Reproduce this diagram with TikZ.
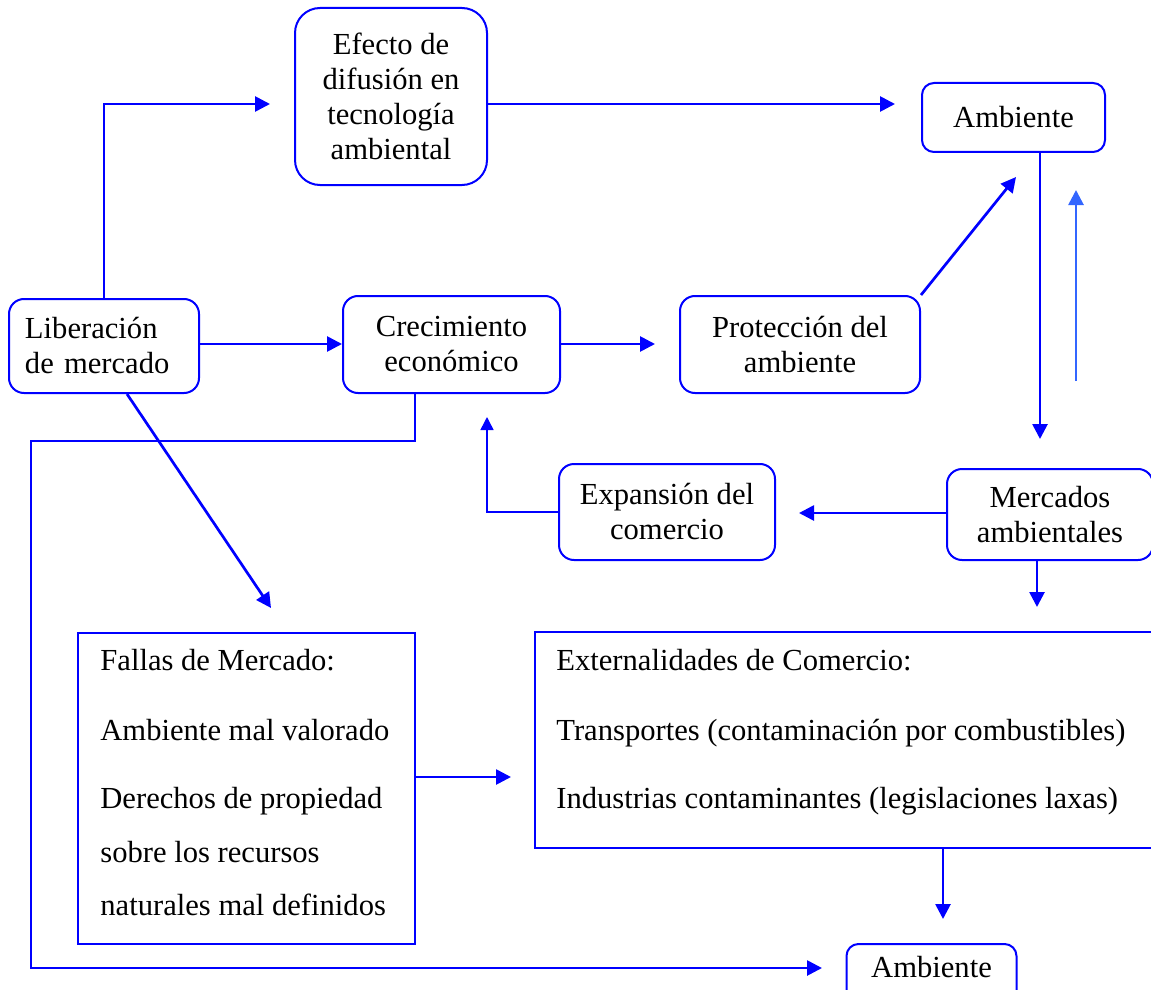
\documentclass[tikz,border=0pt]{standalone}
\usepackage{fontspec}
\setmainfont{Liberation Serif}
\usetikzlibrary{arrows.meta}
\definecolor{mblue}{RGB}{0,0,255}
\definecolor{lblue}{RGB}{51,102,255}
\begin{document}
\begin{tikzpicture}[x=0.5pt,y=-0.5pt,
  font=\fontsize{15.3}{17.5}\selectfont,
  rbox/.style={draw=mblue, line width=1pt, rounded corners=7.5pt, inner sep=0pt, align=center},
  sqbox/.style={draw=mblue, line width=1pt, inner sep=0pt},
  txt/.style={anchor=base west, inner sep=0pt},
  arr/.style={draw=mblue, line width=1.35pt, -{Triangle[length=7.5pt,width=7.5pt]}},
  arrthin/.style={draw=mblue, line width=0.75pt, -{Triangle[length=6.5pt,width=6.5pt]}},
  arrlight/.style={draw=lblue, line width=1.35pt, -{Triangle[length=7.5pt,width=7.5pt]}}]
\useasboundingbox (0,0) rectangle (1151,990);
\clip (0,0) rectangle (1151,990);

% rounded boxes
\node[rbox, rounded corners=12.5pt, minimum width=96pt, minimum height=88.5pt] (efecto) at (391,96.5)
  {Efecto de\\difusión en\\tecnología\\ambiental};
\node[rbox, rounded corners=6pt, minimum width=91.5pt, minimum height=34.5pt] (amb1) at (1013.5,117.5) {Ambiente};
\node[rbox, align=left, inner xsep=8pt, text width=79pt, minimum height=47pt] (lib) at (104,346)
  {Liberación\\de mercado};
\node[rbox, minimum width=108.5pt, minimum height=48.5pt] (crec) at (451.5,344.5) {Crecimiento\\económico};
\node[rbox, minimum width=120pt, minimum height=48.5pt] (prot) at (800,344.5) {Protección del\\ambiente};
\node[rbox, minimum width=108pt, minimum height=48pt] (exp) at (667,512) {Expansión del\\comercio};
\node[rbox, minimum width=103pt, minimum height=45.5pt] (merc) at (1050,514.5) {Mercados\\ambientales};
\node[rbox, rounded corners=6pt, anchor=base, minimum width=85pt, text height=11pt, text depth=20pt, inner ysep=5.5pt] (amb2) at (931.5,977) {Ambiente};

% square boxes
\node[sqbox, minimum width=168.5pt, minimum height=155.5pt] (fallas) at (246.5,788.5) {};
\node[txt] (f1) at (100,670) {Fallas de Mercado:};
\node[txt] (f2) at (100,740) {Ambiente mal valorado};
\node[txt] (f3) at (100,808) {Derechos de propiedad};
\node[txt] (f4) at (100,862) {sobre los recursos};
\node[txt] (f5) at (100,915) {naturales mal definidos};

\node[sqbox, minimum width=317.5pt, minimum height=108pt] (ext) at (852.5,740) {};
\node[txt] (e1) at (556,670) {Externalidades de Comercio:};
\node[txt] (e2) at (556,740) {Transportes (contaminación por combustibles)};
\node[txt] (e3) at (556,808) {Industrias contaminantes (legislaciones laxas)};

% free ends
\coordinate (t1) at (270,104);
\coordinate (t2) at (895,104);
\coordinate (t4) at (655,344);
\coordinate (t5) at (1016,177);
\coordinate (t6) at (1040,439);
\coordinate (lb1) at (1076,381);
\coordinate (lb2) at (1076,190);
\coordinate (t8) at (799,513);
\coordinate (t9) at (487,417);
\coordinate (c1) at (415,441);
\coordinate (c2) at (31,441);
\coordinate (c3) at (31,968);
\coordinate (t10) at (822,968);
\coordinate (t11) at (271,608);
\coordinate (t12) at (1037,607);
\coordinate (t13) at (511,777);
\coordinate (t14) at (943,919);

% connectors
\draw[arr] (lib.north) |- (t1);
\draw[arr] ([yshift=-3.75pt]efecto.east) -- (t2);
\draw[arr] ([yshift=1pt]lib.east) -- ([yshift=1pt]crec.west |- lib.east);
\draw[arr] (crec.east |- t4) -- (t4);
\draw[arr] (prot.north east) -- (t5);
\draw[arr] (amb1.south -| t6) -- (t6);
\draw[arrlight] (lb1) -- (lb2);
\draw[arr] (merc.west |- t8) -- (t8);
\draw[arrthin] (exp.west) -| (t9);
\draw[arr] (crec.south -| c1) -- (c1) -- (c2) -- (c3) -- (t10);
\draw[arr] ([xshift=11.5pt]lib.south) -- (t11);
\draw[arr] (merc.south -| t12) -- (t12);
\draw[arr] (fallas.east |- t13) -- (t13);
\draw[arr] (ext.south -| t14) -- (t14);
\end{tikzpicture}
\end{document}
